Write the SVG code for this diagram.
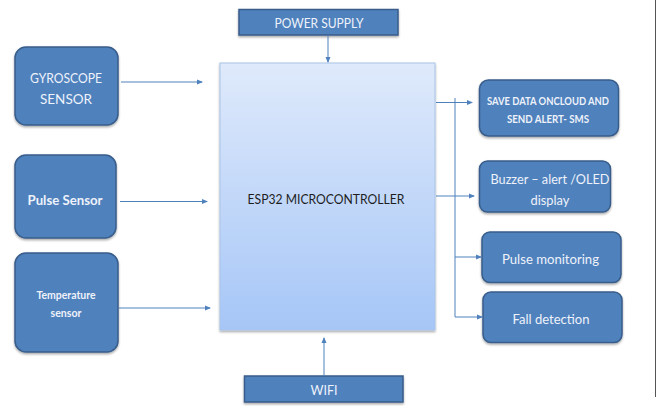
<svg xmlns="http://www.w3.org/2000/svg" width="661" height="406" viewBox="0 0 661 406">
<defs>
<linearGradient id="esp" x1="0" y1="0" x2="0" y2="1">
<stop offset="0" stop-color="#dfeafb"/>
<stop offset="1" stop-color="#a6c6f7"/>
</linearGradient>
<marker id="ah" viewBox="0 0 6 6" refX="5" refY="3" markerWidth="6" markerHeight="6" orient="auto" markerUnits="userSpaceOnUse">
<path d="M0,0.5 L6,3 L0,5.5 z" fill="#4f81bd"/>
</marker>
<filter id="sh" x="-10%" y="-10%" width="125%" height="130%">
<feDropShadow dx="0" dy="1.5" stdDeviation="1" flood-color="#000" flood-opacity="0.35"/>
</filter>
</defs>
<style>
.blk{fill:#4f81bd;stroke:#385d8a;stroke-width:1.5;filter:url(#sh)}
.t{font-family:Lato,"Liberation Sans",sans-serif;fill:#eef2fa;text-anchor:middle;dominant-baseline:central}
.b{font-weight:bold}
.c{stroke:#4f81bd;stroke-width:1;fill:none}
</style>
<rect width="661" height="406" fill="#ffffff"/>
<line x1="655.5" y1="0" x2="655.5" y2="397" stroke="#555" stroke-width="1"/>

<g id="power">
<rect class="blk" x="239" y="9.5" width="159" height="25.5"/>
<text class="t" x="319" y="22" font-size="14" textLength="89" lengthAdjust="spacingAndGlyphs">POWER SUPPLY</text>
</g>

<g id="esp32">
<rect x="220" y="63" width="215" height="267" fill="url(#esp)" stroke="#a9c4e8" stroke-width="1" filter="url(#sh)"/>
<text class="t" x="326" y="198" font-size="14" style="fill:#1e1e1e" textLength="157" lengthAdjust="spacingAndGlyphs">ESP32 MICROCONTROLLER</text>
</g>

<g id="gyro">
<rect class="blk" x="15" y="47" width="103" height="78" rx="11"/>
<text class="t" x="66" y="77" font-size="14" textLength="72" lengthAdjust="spacingAndGlyphs">GYROSCOPE</text>
<text class="t" x="66" y="98" font-size="14" textLength="52" lengthAdjust="spacingAndGlyphs">SENSOR</text>
</g>

<g id="pulse">
<rect class="blk" x="15" y="155" width="101" height="83" rx="11"/>
<text class="t b" x="65" y="199" font-size="14" textLength="75" lengthAdjust="spacingAndGlyphs">Pulse Sensor</text>
</g>

<g id="temp">
<rect class="blk" x="15" y="253" width="103" height="99" rx="11"/>
<text class="t b" x="66" y="295" font-size="10.5" textLength="59" lengthAdjust="spacingAndGlyphs">Temperature</text>
<text class="t b" x="66" y="313" font-size="10.5" textLength="31" lengthAdjust="spacingAndGlyphs">sensor</text>
</g>

<g id="wifi">
<rect class="blk" x="244.5" y="376" width="158.5" height="26"/>
<text class="t" x="324" y="389.5" font-size="14" textLength="27" lengthAdjust="spacingAndGlyphs">WIFI</text>
</g>

<g id="save">
<rect class="blk" x="479.5" y="80" width="139" height="56" rx="9"/>
<text class="t b" x="548" y="101" font-size="10.5" textLength="122" lengthAdjust="spacingAndGlyphs">SAVE DATA ONCLOUD AND</text>
<text class="t b" x="548" y="118.5" font-size="10.5" textLength="82" lengthAdjust="spacingAndGlyphs">SEND ALERT- SMS</text>
</g>

<g id="buzzer">
<rect class="blk" x="479.5" y="161" width="131" height="51" rx="8"/>
<text class="t" x="550" y="178.5" font-size="14" textLength="119" lengthAdjust="spacingAndGlyphs">Buzzer – alert /OLED</text>
<text class="t" x="550" y="199.5" font-size="14" textLength="39" lengthAdjust="spacingAndGlyphs">display</text>
</g>

<g id="pulsemon">
<rect class="blk" x="482" y="232" width="139" height="50.5" rx="8"/>
<text class="t" x="550.5" y="258.5" font-size="14" textLength="97" lengthAdjust="spacingAndGlyphs">Pulse monitoring</text>
</g>

<g id="fall">
<rect class="blk" x="483" y="292" width="139" height="50.5" rx="8"/>
<text class="t" x="551" y="318.5" font-size="14" textLength="77" lengthAdjust="spacingAndGlyphs">Fall detection</text>
</g>

<g id="connectors">
<line class="c" x1="328" y1="35" x2="328" y2="62" marker-end="url(#ah)"/>
<line class="c" x1="121" y1="82" x2="202" y2="82" marker-end="url(#ah)"/>
<line class="c" x1="120" y1="201.5" x2="207" y2="201.5" marker-end="url(#ah)"/>
<line class="c" x1="119" y1="308" x2="210" y2="308" marker-end="url(#ah)"/>
<line class="c" x1="324" y1="376" x2="324" y2="338" marker-end="url(#ah)"/>
<line class="c" x1="436" y1="102.5" x2="472" y2="102.5" marker-end="url(#ah)"/>
<line class="c" x1="436" y1="196" x2="474" y2="196" marker-end="url(#ah)"/>
<polyline class="c" points="455,98 455,317 482,317" marker-end="url(#ah)"/>
<line class="c" x1="455" y1="257" x2="481" y2="257" marker-end="url(#ah)"/>
</g>
</svg>
